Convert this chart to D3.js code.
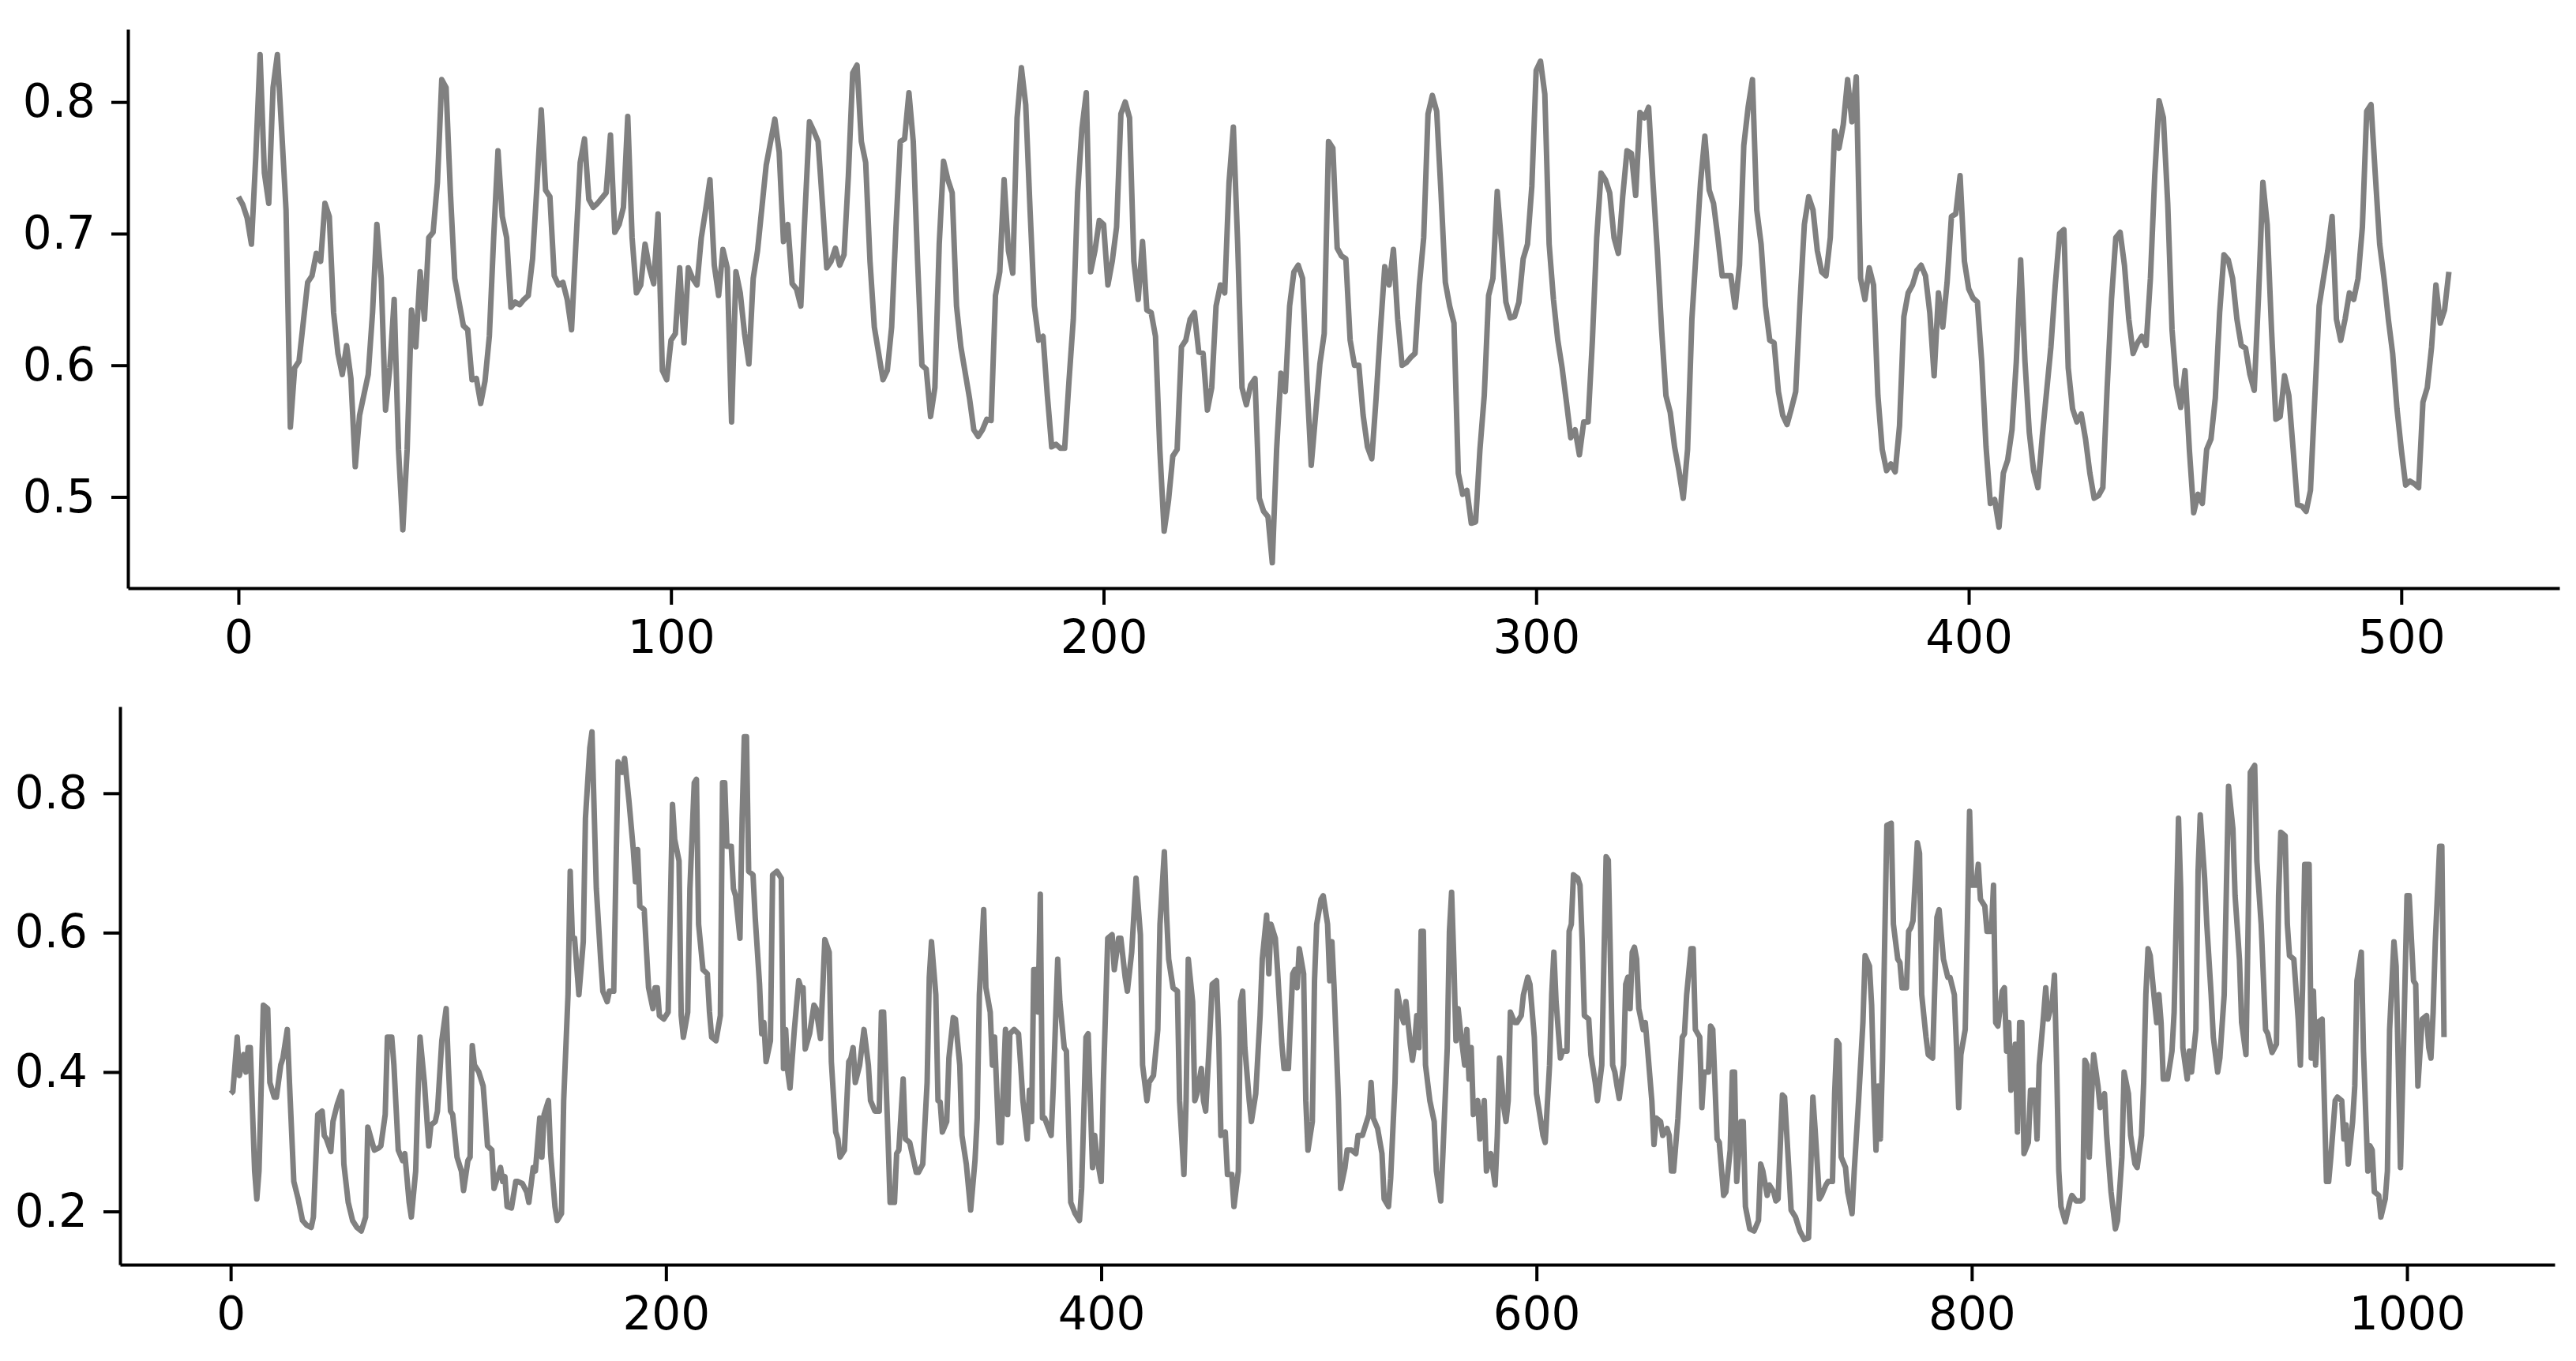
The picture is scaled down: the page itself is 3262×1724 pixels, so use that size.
<!DOCTYPE html>
<html>
<head>
<meta charset="utf-8">
<script src="https://cdn.jsdelivr.net/npm/d3@7"></script>
<style>
  html, body { margin: 0; padding: 0; background: #ffffff; }
  svg { display: block; }
</style>
</head>
<body>
<svg id="chart" width="3262" height="1724"></svg>
<script>
// ---------- data (index, value) ----------
const topSeries = [
[0,.728],[1,.722],[2,.712],[3,.692],[4,.758],[5,.836],[6,.746],[7,.723],[8,.811],[9,.836],[10,.778],[11,.718],[12,.553],[13,.598],[14,.603],[16,.663],[17,.668],[18,.685],[19,.679],[20,.723],[21,.713],[22,.640],[23,.609],[24,.593],[25,.615],[26,.590],[27,.523],[28,.562],[30,.593],[31,.640],[32,.707],[33,.666],[34,.566],[35,.598],[36,.650],[37,.536],[38,.475],[39,.536],[40,.642],[41,.614],[42,.671],[43,.635],[44,.697],[45,.701],[46,.739],[47,.817],[48,.811],[49,.731],[50,.666],[52,.630],[53,.627],[54,.589],[55,.590],[56,.571],[57,.588],[58,.622],[59,.697],[60,.763],[61,.713],[62,.697],[63,.644],[64,.648],[65,.646],[66,.650],[67,.653],[68,.681],[69,.736],[70,.794],[71,.733],[72,.728],[73,.668],[74,.661],[75,.663],[76,.650],[77,.627],[78,.692],[79,.754],[80,.772],[81,.726],[82,.720],[83,.723],[85,.731],[86,.775],[87,.701],[88,.707],[89,.720],[90,.789],[91,.697],[92,.655],[93,.661],[94,.692],[95,.674],[96,.662],[97,.715],[98,.596],[99,.589],[100,.619],[101,.624],[102,.674],[103,.617],[104,.674],[105,.666],[106,.661],[107,.697],[108,.718],[109,.741],[110,.676],[111,.653],[112,.688],[113,.674],[114,.557],[115,.671],[116,.655],[117,.624],[118,.601],[119,.666],[120,.687],[122,.752],[124,.787],[125,.762],[126,.694],[127,.707],[128,.662],[129,.658],
[130,.645],[131,.718],[132,.785],[133,.778],[134,.770],[135,.723],[136,.674],[137,.679],[138,.689],[139,.676],[140,.684],[141,.744],[142,.822],[143,.828],[144,.770],[145,.754],[146,.679],[147,.629],[149,.589],[150,.596],[151,.629],[152,.705],[153,.770],[154,.772],[155,.807],[156,.770],[157,.679],[158,.600],[159,.597],[160,.561],[161,.583],[162,.692],[163,.755],[164,.741],[165,.731],[166,.645],[167,.614],[169,.575],[170,.551],[171,.546],[172,.551],[173,.559],[174,.558],[175,.653],[176,.671],[177,.741],[178,.687],[179,.670],[180,.788],[181,.826],[182,.798],[183,.718],[184,.645],[185,.619],[186,.622],[187,.577],[188,.538],[189,.540],[190,.537],[191,.537],[192,.588],[193,.635],[194,.731],[195,.780],[196,.807],[197,.671],[198,.687],[199,.710],[200,.707],[201,.661],[202,.679],[203,.705],[204,.791],[205,.800],[206,.788],[207,.679],[208,.650],[209,.694],[210,.642],[211,.640],[212,.622],[213,.536],[214,.474],[215,.497],[216,.531],[217,.536],[218,.614],[219,.619],[220,.635],[221,.640],[222,.610],[223,.609],[224,.566],[225,.583],[226,.645],[227,.661],[228,.655],[229,.739],[230,.781],[231,.692],[232,.583],[233,.570],[234,.585],[235,.590],[236,.499],[237,.489],[238,.485],[239,.450],[240,.536],[241,.594],[242,.580],[243,.645],[244,.671],[245,.676],[246,.666],[247,.588],[248,.524],[249,.562],[250,.601],[251,.624],[252,.770],[253,.765],[254,.689],[255,.683],[256,.681],[257,.619],[258,.600],[259,.600],
[260,.562],[261,.538],[262,.529],[263,.575],[264,.627],[265,.675],[266,.661],[267,.688],[268,.635],[269,.600],[270,.602],[271,.606],[272,.609],[273,.661],[274,.697],[275,.791],[276,.805],[277,.793],[278,.731],[279,.663],[280,.645],[281,.632],[282,.518],[283,.502],[284,.505],[285,.480],[286,.481],[287,.536],[288,.577],[289,.653],[290,.666],[291,.732],[292,.692],[293,.648],[294,.636],[295,.637],[296,.648],[297,.681],[298,.692],[299,.736],[300,.824],[301,.831],[302,.806],[303,.692],[304,.650],[305,.619],[306,.598],[307,.572],[308,.545],[309,.551],[310,.532],[311,.557],[312,.557],[313,.619],[314,.697],[315,.746],[316,.741],[317,.731],[318,.697],[319,.685],[320,.728],[321,.763],[322,.761],[323,.729],[324,.792],[325,.788],[326,.796],[327,.739],[328,.687],[329,.627],[330,.577],[331,.564],[332,.538],[333,.520],[334,.499],[335,.536],[336,.635],[337,.687],[338,.739],[339,.774],[340,.733],[341,.723],[342,.697],[343,.668],[344,.668],[345,.668],[346,.644],[347,.676],[348,.767],[349,.796],[350,.817],[351,.718],[352,.692],[353,.645],[354,.619],[355,.617],[356,.580],[357,.562],[358,.555],[359,.567],[360,.580],[361,.648],[362,.707],[363,.728],[364,.718],[365,.687],[366,.671],[367,.668],[368,.697],[369,.778],[370,.765],[371,.783],[372,.817],[373,.785],[374,.819],[375,.666],[376,.650],[377,.674],[378,.661],[379,.577],[380,.536],[381,.520],[382,.525],[383,.519],[384,.554],
[385,.637],[386,.655],[387,.661],[388,.672],[389,.676],[390,.668],[391,.640],[392,.592],[393,.655],[394,.629],[395,.663],[396,.713],[397,.715],[398,.744],[399,.679],[400,.658],[401,.651],[402,.648],[403,.603],[404,.538],[405,.495],[406,.498],[407,.477],[408,.518],[409,.528],[410,.551],[411,.603],[412,.680],[413,.603],[414,.549],[415,.520],[416,.507],[417,.546],[418,.580],[419,.614],[420,.661],[421,.700],[422,.703],[423,.598],[424,.567],[425,.557],[426,.563],[427,.544],[428,.518],[429,.499],[430,.501],[431,.507],[432,.583],[433,.650],[434,.697],[435,.701],[436,.676],[437,.635],[438,.609],[439,.617],[440,.622],[441,.615],[442,.666],[443,.744],[444,.801],[445,.788],[446,.723],[447,.627],[448,.585],[449,.568],[450,.596],[451,.536],[452,.488],[453,.502],[454,.495],[455,.536],[456,.544],[457,.575],[458,.640],[459,.684],[460,.680],[461,.666],[462,.635],[463,.615],[464,.613],[465,.593],[466,.581],[467,.653],[468,.739],[469,.707],[470,.627],[471,.559],[472,.561],[473,.592],[474,.577],[475,.536],[476,.494],[477,.493],[478,.489],[479,.505],[480,.575],[481,.645],[482,.666],[483,.687],[484,.713],[485,.635],[486,.619],[487,.635],[488,.655],[489,.650],[490,.666],[491,.705],[492,.793],[493,.798],[494,.744],[495,.692],[496,.666],[497,.635],[498,.609],[499,.567],[500,.536],[501,.509],[502,.512],[503,.510],[504,.507],[505,.572],[506,.583],[507,.614],[508,.661],[509,.632],[510,.642],[511,.671]
];

const bottomSeries = [
[0,.369],[1,.372],[3,.450],[4,.395],[6,.425],[7,.400],[8,.435],[9,.435],[11,.258],[12,.218],[13,.258],[15,.496],[17,.491],[18,.385],[20,.364],[21,.364],[23,.410],[24,.420],[26,.461],[27,.385],[29,.243],[31,.218],[33,.187],[35,.180],[37,.177],[38,.192],[40,.339],[42,.344],[43,.309],[44,.304],[46,.286],[47,.329],[49,.354],[51,.372],[52,.268],[54,.213],[56,.187],[58,.177],[60,.172],[62,.192],[63,.321],[65,.299],[66,.288],[68,.291],[69,.294],[71,.339],[72,.450],[74,.450],[75,.410],[76,.349],[77,.288],[79,.273],[80,.283],[82,.213],[83,.192],[85,.258],[86,.364],[87,.450],[89,.385],[91,.294],[92,.324],[94,.329],[95,.344],[97,.445],[99,.491],[100,.410],[101,.344],[102,.339],[104,.278],[106,.258],[107,.230],[109,.273],[110,.278],[111,.438],[112,.410],[114,.400],[116,.380],[117,.339],[118,.294],[120,.288],[121,.233],[123,.253],
[124,.263],[125,.243],[126,.250],[127,.207],[129,.205],[131,.243],[132,.243],[134,.240],[136,.228],[137,.213],[139,.263],[140,.258],[142,.334],[143,.278],[144,.339],[146,.359],[147,.283],[149,.207],[150,.187],[152,.197],[153,.359],[155,.511],[156,.688],[157,.592],[158,.592],[160,.511],[162,.587],[163,.764],[165,.865],[166,.888],[168,.663],[170,.562],[171,.516],[173,.501],[174,.516],[176,.516],[177,.688],[178,.845],[180,.830],[181,.850],[183,.789],[185,.719],[186,.673],[187,.719],[188,.638],[190,.633],[192,.521],[194,.491],[195,.521],[196,.521],[197,.481],[199,.476],[201,.486],[202,.633],[203,.784],[204,.734],[206,.703],[207,.481],[208,.450],[210,.486],[211,.663],[213,.815],[214,.820],[215,.612],[217,.547],[219,.541],[220,.486],[221,.450],[223,.445],[225,.481],[226,.815],[227,.815],[228,.724],[230,.724],[231,.663],[232,.653],[234,.592],[235,.764],[236,.881],[237,.881],[238,.688],[240,.683],[241,.622],[243,.526],[244,.455],[245,.471],[246,.415],[248,.445],[249,.683],[251,.688],[253,.678],
[254,.405],[255,.461],[256,.400],[257,.377],[259,.461],[261,.531],[262,.521],[263,.521],[264,.433],[266,.455],[268,.496],[269,.491],[271,.448],[272,.516],[273,.590],[275,.572],[276,.415],[278,.314],[279,.304],[280,.278],[282,.288],[284,.415],[285,.420],[286,.435],[287,.385],[289,.410],[291,.461],[293,.410],[294,.359],[296,.344],[298,.344],[299,.486],[300,.486],[302,.309],[303,.213],[305,.213],[306,.283],[307,.288],[309,.390],[310,.304],[312,.299],[315,.256],[316,.256],[318,.268],[320,.385],[321,.536],[322,.587],[324,.511],[325,.359],[326,.357],[327,.314],[329,.329],[330,.420],[332,.478],[333,.476],[335,.410],[336,.309],[338,.268],[340,.202],[342,.273],[343,.334],[344,.511],[346,.633],[347,.521],[349,.486],[350,.410],[351,.450],[353,.299],[354,.299],[356,.461],[357,.339],[358,.455],[360,.461],[362,.455],[363,.410],[364,.359],[366,.304],[367,.374],[368,.329],[369,.547],[370,.547],[371,.486],[372,.655],[373,.334],[374,.334],[377,.309],[378,.380],
[380,.562],[381,.501],[383,.435],[384,.430],[386,.213],[388,.197],[390,.187],[391,.233],[393,.450],[394,.455],[396,.263],[397,.309],[398,.278],[400,.243],[401,.385],[403,.592],[405,.597],[406,.547],[408,.592],[409,.592],[411,.536],[412,.516],[414,.572],[416,.678],[418,.597],[419,.410],[421,.359],[422,.385],[424,.395],[426,.461],[427,.612],[429,.716],[430,.627],[431,.562],[433,.521],[435,.516],[436,.359],[438,.253],[439,.359],[440,.562],[442,.501],[443,.359],[444,.369],[446,.405],[447,.359],[448,.344],[450,.461],[451,.526],[453,.531],[454,.450],[455,.309],[457,.314],[458,.253],[460,.253],[461,.207],[463,.258],[464,.501],[465,.516],[466,.435],[468,.359],[469,.329],[471,.369],[473,.481],[474,.562],[476,.625],[477,.541],[478,.612],[480,.592],[481,.547],[483,.440],[484,.405],[486,.405],[488,.541],[489,.547],[490,.521],[491,.577],[493,.541],[494,.359],[495,.288],[497,.329],[498,.531],[499,.612],[501,.648],[502,.653],[504,.612],[505,.531],[506,.587],
[507,.521],[509,.359],[510,.233],[512,.263],[513,.288],[515,.288],[517,.283],[518,.309],[520,.309],[522,.329],[523,.339],[524,.385],[525,.334],[527,.319],[529,.283],[530,.218],[532,.207],[533,.248],[535,.385],[536,.516],[538,.481],[539,.471],[540,.501],[542,.440],[543,.417],[544,.440],[545,.481],[546,.435],[547,.602],[548,.602],[549,.410],[551,.359],[553,.329],[554,.258],[556,.215],[557,.283],[559,.435],[560,.602],[561,.658],[562,.562],[563,.445],[564,.491],[565,.461],[567,.410],[568,.461],[569,.390],[570,.435],[571,.339],[573,.359],[574,.304],[576,.359],[577,.258],[579,.283],[581,.238],[582,.309],[583,.420],[585,.349],[586,.329],[587,.359],[588,.486],[590,.471],[591,.471],[593,.481],[594,.511],[596,.536],[597,.526],[599,.450],[600,.369],[601,.349],[603,.309],[604,.299],[606,.410],[607,.511],[608,.572],[609,.501],[611,.420],[612,.430],[614,.430],[615,.602],[616,.612],[617,.683],[619,.678],[620,.668],[621,.587],[622,.481],[624,.476],[625,.425],[627,.385],[628,.359],[630,.410],[631,.562],[632,.709],[633,.704],
[635,.410],[636,.400],[637,.380],[638,.362],[640,.410],[641,.526],[642,.536],[643,.491],[644,.572],[645,.579],[646,.562],[647,.491],[649,.461],[650,.471],[651,.435],[653,.359],[654,.296],[655,.334],[657,.329],[658,.309],[660,.319],[661,.309],[662,.258],[663,.258],[665,.334],[667,.450],[668,.455],[669,.511],[671,.577],[672,.577],[673,.461],[675,.450],[676,.349],[677,.400],[679,.400],[680,.466],[681,.461],[683,.304],[684,.299],[686,.223],[687,.228],[689,.288],[690,.400],[691,.400],[692,.243],[694,.329],[695,.329],[696,.207],[698,.175],[700,.172],[702,.187],[703,.268],[704,.258],[706,.223],[707,.238],[709,.228],[710,.215],[711,.218],[713,.367],[714,.364],[716,.258],[717,.202],[719,.192],[721,.172],[723,.160],[725,.162],[726,.258],[727,.364],[728,.319],[730,.218],[731,.223],[733,.238],[734,.243],[736,.243],[737,.369],[738,.445],[739,.440],[740,.278],[742,.263],[743,.228],[745,.197],[746,.258],[748,.359],[750,.471],[751,.567],[753,.552],[754,.496],[755,.380],[756,.288],[757,.380],[758,.304],[759,.420],
[761,.754],[763,.757],[764,.612],[766,.562],[767,.557],[768,.521],[770,.521],[771,.602],[772,.607],[773,.617],[775,.729],[776,.714],[777,.511],[779,.450],[780,.425],[782,.420],[784,.622],[785,.633],[787,.562],[789,.536],[790,.536],[792,.511],[793,.435],[794,.349],[795,.425],[797,.461],[798,.612],[799,.774],[800,.668],[802,.668],[803,.698],[804,.648],[806,.638],[807,.602],[809,.602],[810,.668],[811,.471],[812,.466],[814,.516],[815,.521],[816,.430],[817,.471],[818,.374],[820,.440],[821,.314],[822,.471],[823,.471],[824,.283],[826,.299],[827,.374],[829,.374],[830,.304],[831,.410],[833,.481],[834,.521],[835,.476],[837,.501],[838,.539],[839,.410],[840,.258],[841,.207],[843,.185],[845,.213],[846,.223],[848,.215],[850,.215],[851,.218],[852,.417],[853,.410],[854,.278],[855,.359],[856,.425],[858,.380],[859,.349],[861,.369],[862,.309],[864,.228],[866,.175],[867,.187],[869,.278],[870,.400],[872,.369],[873,.309],[875,.268],[876,.263],[878,.309],[879,.385],[880,.511],[881,.577],[882,.567],[884,.501],[885,.471],
[886,.511],[887,.471],[888,.390],[890,.390],[892,.430],[893,.486],[895,.764],[896,.663],[897,.435],[899,.390],[900,.430],[901,.400],[903,.461],[904,.688],[905,.769],[907,.678],[908,.612],[910,.511],[911,.450],[913,.400],[914,.420],[916,.511],[917,.663],[918,.810],[920,.749],[921,.653],[923,.562],[924,.471],[926,.425],[927,.612],[928,.830],[930,.840],[931,.703],[933,.612],[934,.536],[935,.461],[936,.455],[938,.428],[940,.440],[941,.653],[942,.744],[944,.739],[945,.612],[946,.567],[948,.562],[950,.476],[951,.410],[952,.521],[953,.698],[955,.698],[956,.420],[957,.516],[958,.410],[959,.471],[961,.476],[962,.359],[963,.243],[964,.243],[965,.278],[967,.359],[968,.364],[970,.359],[971,.304],[972,.324],[973,.268],[975,.329],[976,.380],[977,.531],[979,.572],[980,.430],[982,.258],[983,.294],[984,.288],[985,.228],[987,.223],[988,.192],[990,.218],[991,.258],[992,.461],[994,.587],[995,.552],[997,.263],[998,.385],[1000,.653],[1001,.653],[1003,.531],[1004,.526],[1005,.380],[1006,.430],[1007,.476],[1009,.481],[1010,.435],[1011,.420],[1012,.486],[1013,.587],[1015,.724],[1016,.724],[1017,.450]
];

// tick labels
const topXTicks = [0, 100, 200, 300, 400, 500];
const topYTicks = [0.5, 0.6, 0.7, 0.8];
const bottomXTicks = [0, 200, 400, 600, 800, 1000];
const bottomYTicks = [0.2, 0.4, 0.6, 0.8];

// ---------- drawing ----------
const svg = d3.select("#chart");
svg.append("rect").attr("width", 3262).attr("height", 1724).attr("fill", "#ffffff");

const FONT = "DejaVu Sans";
const FONT_SIZE = 58;
const TICK = 21;
const PAD = 20;
const SPINE_W = 4;
const LINE_W = 7;
const LINE_COLOR = "#808080";

function padded(ext) {
  const r = ext[1] - ext[0];
  return [ext[0] - 0.05 * r, ext[1] + 0.05 * r];
}

function panel(series, box, xTicks, yTicks) {
  const xExt = d3.extent(series, d => d[0]);
  const yExt = d3.extent(series, d => d[1]);
  const x = d3.scaleLinear().domain(padded(xExt)).range([box.left, box.right]);
  const y = d3.scaleLinear().domain(padded(yExt)).range([box.bottom, box.top]);

  const line = d3.line().x(d => x(d[0])).y(d => y(d[1]));
  svg.append("path")
    .datum(series)
    .attr("d", line)
    .attr("fill", "none")
    .attr("stroke", LINE_COLOR)
    .attr("stroke-width", LINE_W)
    .attr("stroke-linejoin", "round")
    .attr("stroke-linecap", "butt");

  const gx = svg.append("g")
    .attr("transform", `translate(0,${box.bottom})`)
    .call(d3.axisBottom(x).tickValues(xTicks).tickFormat(d3.format("d"))
      .tickSize(TICK).tickSizeOuter(0).tickPadding(PAD));
  const gy = svg.append("g")
    .attr("transform", `translate(${box.left},0)`)
    .call(d3.axisLeft(y).tickValues(yTicks).tickFormat(d3.format(".1f"))
      .tickSize(TICK).tickSizeOuter(0).tickPadding(PAD));

  [gx, gy].forEach(g => {
    g.attr("font-family", FONT).attr("font-size", FONT_SIZE);
    g.select(".domain").attr("stroke", "#000").attr("stroke-width", SPINE_W);
    g.selectAll(".tick line").attr("stroke", "#000").attr("stroke-width", SPINE_W);
    g.selectAll(".tick text").attr("fill", "#000");
  });
}

panel(topSeries, {left: 162, right: 3241, top: 37, bottom: 745}, topXTicks, topYTicks);
panel(bottomSeries, {left: 152, right: 3235, top: 895, bottom: 1602}, bottomXTicks, bottomYTicks);
</script>
</body>
</html>
